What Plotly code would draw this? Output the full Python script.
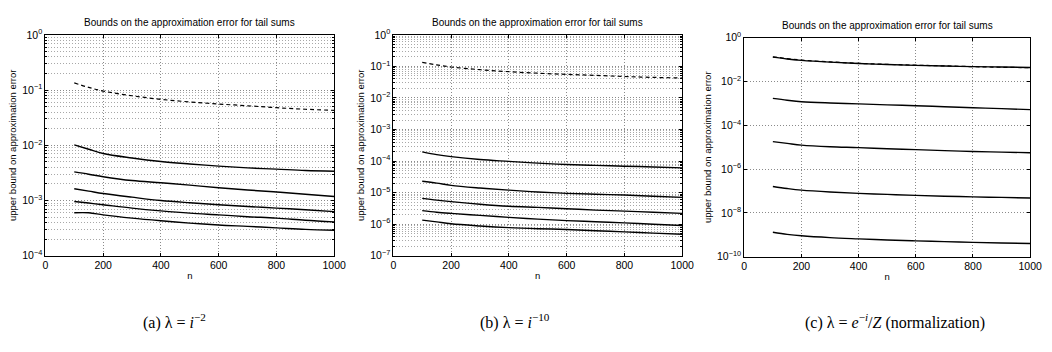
import plotly.graph_objects as go

W, H = 1052, 352

n = [100, 150, 200, 300, 400, 500, 600, 700, 800, 900, 1000]

# dashed reference curve (same in all panels)
dashed = [0.135, 0.112, 0.096, 0.079, 0.068, 0.061, 0.056, 0.052, 0.048, 0.045, 0.043]

# panel (a) lambda = i^-2
a1 = [0.0102, 0.0085, 0.0071, 0.0059, 0.0051, 0.0046, 0.0042, 0.0039, 0.0037, 0.0035, 0.0034]
a2 = [0.0033, 0.0030, 0.0027, 0.0023, 0.0021, 0.0019, 0.0017, 0.00155, 0.00143, 0.0013, 0.00118]
a3 = [0.00163, 0.00148, 0.00134, 0.00115, 0.00100, 0.00091, 0.00084, 0.00078, 0.00073, 0.00068, 0.00063]
a4 = [0.00096, 0.00090, 0.00084, 0.00073, 0.00065, 0.00059, 0.00055, 0.00051, 0.00048, 0.00044, 0.00041]
a5 = [0.00060, 0.00060, 0.00055, 0.00048, 0.00043, 0.00039, 0.00036, 0.00034, 0.00032, 0.00030, 0.00029]

# panel (b) lambda = i^-10
b1 = [1.95e-4, 1.6e-4, 1.38e-4, 1.12e-4, 9.8e-5, 8.6e-5, 7.8e-5, 7.3e-5, 6.9e-5, 6.5e-5, 6.1e-5]
b2 = [2.3e-5, 2.0e-5, 1.7e-5, 1.4e-5, 1.2e-5, 1.05e-5, 9.5e-6, 8.9e-6, 8.4e-6, 7.7e-6, 7.1e-6]
b3 = [6.6e-6, 5.8e-6, 5.2e-6, 4.3e-6, 3.7e-6, 3.4e-6, 3.1e-6, 2.8e-6, 2.6e-6, 2.4e-6, 2.2e-6]
b4 = [2.7e-6, 2.4e-6, 2.2e-6, 1.9e-6, 1.65e-6, 1.45e-6, 1.3e-6, 1.2e-6, 1.1e-6, 1.0e-6, 9.1e-7]
b5 = [1.35e-6, 1.18e-6, 1.03e-6, 8.8e-7, 7.8e-7, 7.2e-7, 6.8e-7, 6.2e-7, 5.7e-7, 5.2e-7, 4.8e-7]

# panel (c) lambda = e^-i / Z
c1 = [0.13, 0.107, 0.093, 0.077, 0.067, 0.060, 0.055, 0.051, 0.048, 0.046, 0.044]
c2 = [1.7e-3, 1.4e-3, 1.2e-3, 1.05e-3, 9.6e-4, 8.6e-4, 7.9e-4, 7.1e-4, 6.4e-4, 5.8e-4, 5.2e-4]
c3 = [1.8e-5, 1.5e-5, 1.25e-5, 1.05e-5, 9.6e-6, 8.5e-6, 7.8e-6, 7.0e-6, 6.4e-6, 6.0e-6, 5.6e-6]
c4 = [1.6e-7, 1.3e-7, 1.1e-7, 9.0e-8, 7.8e-8, 7.0e-8, 6.3e-8, 5.8e-8, 5.4e-8, 5.1e-8, 4.8e-8]
c5 = [1.3e-9, 1.05e-9, 9.0e-10, 7.4e-10, 6.5e-10, 5.8e-10, 5.3e-10, 4.9e-10, 4.5e-10, 4.2e-10, 4.0e-10]

x_ticks = [0, 200, 400, 600, 800, 1000]
title_text = "Bounds on the approximation error for tail sums"
ylabel = "upper bound on approximation error"
captions = ["(a) λ = <i>i</i><sup>−2</sup>",
            "(b) λ = <i>i</i><sup>−10</sup>",
            "(c) λ = <i>e</i><sup>−<i>i</i></sup>/<i>Z</i> (normalization)"]

def pow_label(e):
    return "10<sup>%s</sup>" % (str(e).replace("-", "−"))

# pixel boxes of plot areas: (left, right, top, bottom)
boxes = [(43, 336, 28, 258), (396, 689, 28, 258), (752, 1042, 31, 259)]
ydecades = [(-4, 0, 1, True), (-7, 0, 1, True), (-10, 0, 2, False)]

panels = [[a1, a2, a3, a4, a5], [b1, b2, b3, b4, b5], [c1, c2, c3, c4, c5]]

fig = go.Figure()
FONT = "Liberation Sans, Arial, Helvetica, sans-serif"
GRIDDASH = "1px,2px"
annotations = []

for i, (curves, box, yd) in enumerate(zip(panels, boxes, ydecades)):
    sfx = "" if i == 0 else str(i + 1)
    xref, yref = "x" + sfx, "y" + sfx
    fig.add_trace(go.Scatter(x=n, y=dashed, mode="lines", xaxis=xref, yaxis=yref,
                             line=dict(color="black", width=1.2, dash="4px,3px", shape="spline"),
                             showlegend=False))
    for cv in curves:
        fig.add_trace(go.Scatter(x=n, y=cv, mode="lines", xaxis=xref, yaxis=yref,
                                 line=dict(color="black", width=1.4, shape="spline"),
                                 showlegend=False))
    l, r, t, b = box
    lo, hi, step, minor = yd
    exps = list(range(lo, hi + 1, step))
    minor_vals = []
    if minor:
        for e in range(lo, hi):
            for m in range(2, 10):
                minor_vals.append(m * 10 ** e)
    xa = dict(domain=[l / W, r / W], range=[0, 1000], tickvals=x_ticks,
              ticktext=[str(v) for v in x_ticks], ticks="inside", ticklen=3,
              tickcolor="black", showline=True, linecolor="black", linewidth=1,
              mirror="ticks", showgrid=True, gridcolor="#8a8a8a", griddash=GRIDDASH,
              gridwidth=1, zeroline=False, anchor=yref,
              tickfont=dict(family=FONT, size=10.5, color="black"),
              title=dict(text="n", font=dict(family=FONT, size=9.5, color="black"), standoff=2))
    ya = dict(domain=[1 - b / H, 1 - t / H], type="log", range=[lo, hi],
              tickvals=[10 ** e for e in exps], ticktext=[pow_label(e) for e in exps],
              ticks="inside", ticklen=3, tickcolor="black", showline=True,
              linecolor="black", linewidth=1, mirror="ticks", showgrid=True,
              gridcolor="#8a8a8a", griddash=GRIDDASH, gridwidth=1, zeroline=False,
              anchor=xref, tickfont=dict(family=FONT, size=10.5, color="black"),
              title=dict(text=ylabel, font=dict(family=FONT, size=9.5, color="black"), standoff=3))
    if minor:
        ya["minor"] = dict(tickmode="array", tickvals=minor_vals, ticks="inside",
                           ticklen=2, tickcolor="black", showgrid=True,
                           gridcolor="#a8a8a8", griddash=GRIDDASH, gridwidth=1)
    fig.update_layout(**{"xaxis" + sfx: xa, "yaxis" + sfx: ya})
    annotations.append(dict(text=title_text, x=(l + r) / 2 / W, y=1 - (t - 13) / H,
                            xref="paper", yref="paper", showarrow=False,
                            xanchor="center", yanchor="middle",
                            font=dict(family=FONT, size=10, color="black")))

cap_x = [174, 519, 905]
for cx, ct in zip(cap_x, captions):
    annotations.append(dict(text=ct, x=cx / W, y=1 - 327 / H, xref="paper", yref="paper",
                            showarrow=False, xanchor="center", yanchor="middle",
                            font=dict(family="Liberation Serif, Times New Roman, serif",
                                      size=16, color="black")))

fig.update_layout(width=W, height=H, margin=dict(l=0, r=0, t=0, b=0),
                  paper_bgcolor="white", plot_bgcolor="white",
                  annotations=annotations, showlegend=False)

fig.write_html("out.html")
